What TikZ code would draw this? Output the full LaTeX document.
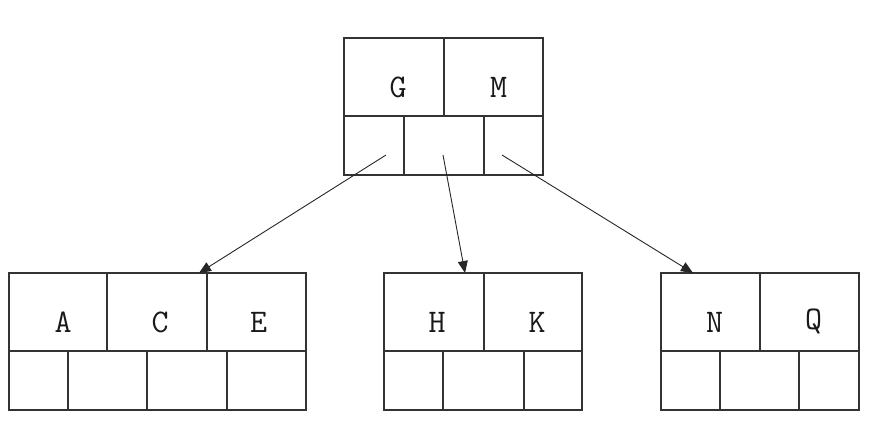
\documentclass[tikz,border=0pt]{standalone}
\usetikzlibrary{positioning,calc,arrows.meta}

\tikzset{
  keycell/.style={rectangle,draw=black!80,line width=1.2pt,inner sep=0pt,outer sep=0pt,anchor=north west,minimum width=99pt,minimum height=78pt},
  ptrcell/.style={rectangle,draw=black!80,line width=1.2pt,inner sep=0pt,outer sep=0pt,anchor=north west,minimum width=80pt,minimum height=59pt},
  letter/.style={font=\ttfamily\fontsize{33}{33}\selectfont,text=black!90,inner sep=0pt},
  ptr/.style={line width=0.9pt,draw=black!85,-{Triangle[length=12pt,width=10pt]}}
}

\begin{document}
\begin{tikzpicture}[x=1pt,y=-1pt]
        \useasboundingbox (0,0) rectangle (890,434);

        % root node
        \node[keycell,minimum width=100pt,label={[letter,shift={(4pt,-10pt)}]center:G}] (rk1) at (344,38) {};
        \node[keycell,label={[letter,shift={(5pt,-10pt)}]center:M}] (rk2) at ($(rk1.north east)$) {};
        \node[ptrcell,minimum width=60pt] (rp0) at ($(rk1.south west)$) {};
        \node[ptrcell] (rp1) at ($(rp0.north east)$) {};
        \node[ptrcell,minimum width=59pt] (rp2) at ($(rp1.north east)$) {};

        % left child
        \node[keycell,minimum width=98pt,label={[letter,shift={(5pt,-10pt)}]center:A}] (lk1) at (9,273) {};
        \node[keycell,minimum width=100pt,label={[letter,shift={(3pt,-10pt)}]center:C}] (lk2) at ($(lk1.north east)$) {};
        \node[keycell,label={[letter,shift={(2pt,-10pt)}]center:E}] (lk3) at ($(lk2.north east)$) {};
        \node[ptrcell,minimum width=59pt] (lp0) at ($(lk1.south west)$) {};
        \node[ptrcell,minimum width=79pt] (lp1) at ($(lp0.north east)$) {};
        \node[ptrcell] (lp2) at ($(lp1.north east)$) {};
        \node[ptrcell,minimum width=79pt] (lp3) at ($(lp2.north east)$) {};

        % middle child
        \node[keycell,minimum width=100pt,label={[letter,shift={(3pt,-10pt)}]center:H}] (mk1) at (384,273) {};
        \node[keycell,minimum width=98pt,label={[letter,shift={(4pt,-10pt)}]center:K}] (mk2) at ($(mk1.north east)$) {};
        \node[ptrcell,minimum width=59pt] (mp0) at ($(mk1.south west)$) {};
        \node[ptrcell,minimum width=81pt] (mp1) at ($(mp0.north east)$) {};
        \node[ptrcell,minimum width=58pt] (mp2) at ($(mp1.north east)$) {};

        % right child
        \node[keycell,label={[letter,shift={(4pt,-10pt)}]center:N}] (nk1) at (661,273) {};
        \node[keycell,label={[letter,shift={(4pt,-10pt)}]center:Q}] (nk2) at ($(nk1.north east)$) {};
        \node[ptrcell,minimum width=59pt] (np0) at ($(nk1.south west)$) {};
        \node[ptrcell,minimum width=79pt] (np1) at ($(np0.north east)$) {};
        \node[ptrcell,minimum width=60pt] (np2) at ($(np1.north east)$) {};

        \draw[ptr] ([xshift=-18pt,yshift=20pt]rp0.south east) -- ([xshift=-8pt]lk2.north east);
        \draw[ptr] ([xshift=-1pt,yshift=20pt]rp1.south) -- ([xshift=-19pt]mk1.north east);
        \draw[ptr] ([xshift=18pt,yshift=20pt]rp2.south west) -- ([xshift=32pt]nk1.north west);
    \end{tikzpicture}
\end{document}
